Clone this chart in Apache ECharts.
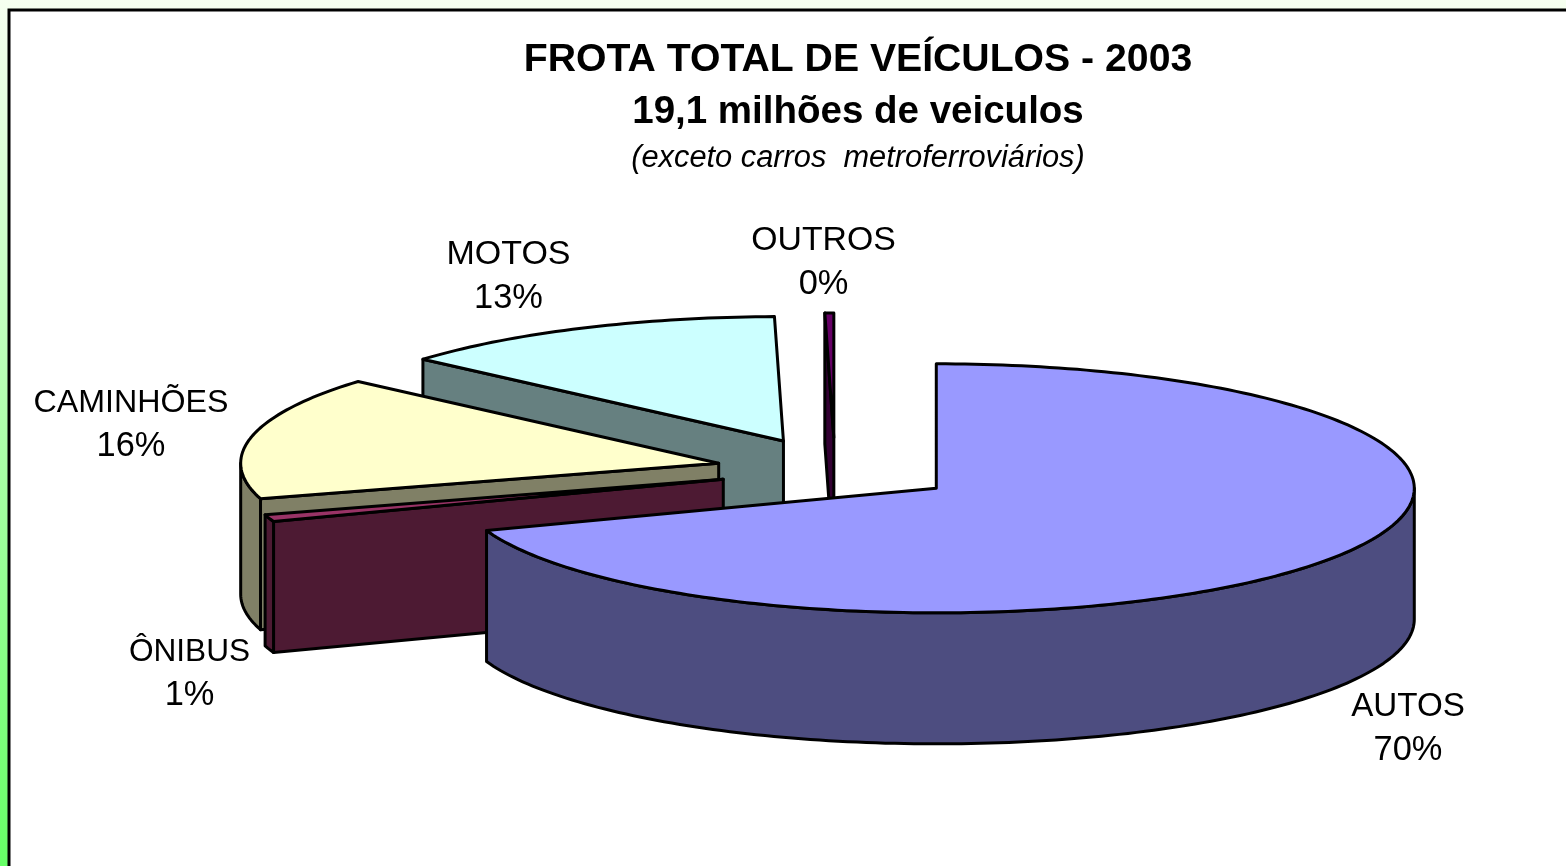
<!DOCTYPE html>
<html><head><meta charset="utf-8">
<style>html,body{margin:0;padding:0;background:#fff}#c{width:1566px;height:866px}</style>
<script src="https://cdn.jsdelivr.net/npm/echarts@6/dist/echarts.min.js"></script>
</head><body><div id="c"></div>
<script>
// Data (clockwise from 12 o'clock)
const categories = ['AUTOS', 'ÔNIBUS', 'CAMINHÕES', 'MOTOS', 'OUTROS'];
const shares = [69.5, 0.9, 16.0, 13.3, 0.3];
const titleLines = ['FROTA TOTAL DE VEÍCULOS - 2003', '19,1 milhões de veiculos', '(exceto carros  metroferroviários)'];

// Style / layout
const topColors = ['#9999FF', '#993366', '#FFFFCC', '#CCFFFF', '#660066'];
const wallColors = ['#4D4D80', '#4D1A33', '#808066', '#668080', '#330033'];
const explode = [0.259, 0.246, 0.249, 0.255, 0.26];
const labelAnchors = [[1408, 707, 751], [189.5, 652, 696], [131, 403, 447], [508.5, 254.5, 298.5], [823.5, 240.5, 285]];
const labelSizes = [33.2, 31.6, 32.2, 34, 33.8];
const pie = { cx: 835, cy: 469.8, rx: 478, ry: 124.5, depth: 131 };
const FONT = '"Liberation Sans", Arial, sans-serif';

const total = shares.reduce((a, b) => a + b, 0);
let running = 0;
const sliceRows = shares.map((v, i) => {
  const start = running / total * 360;
  running += v;
  return [start, running / total * 360, i];
});

function renderSlice(params, api) {
  const t1 = api.value(0) * Math.PI / 180, t2 = api.value(1) * Math.PI / 180, i = api.value(2);
  const mid = (t1 + t2) / 2, e = explode[i];
  const ax = pie.cx + e * pie.rx * Math.sin(mid), ay = pie.cy - e * pie.ry * Math.cos(mid);
  const pt = t => [ax + pie.rx * Math.sin(t), ay - pie.ry * Math.cos(t)];
  const down = p => [p[0], p[1] + pie.depth];
  const arc = (a, b) => {
    const out = [], n = Math.max(2, Math.ceil((b - a) / 0.02));
    for (let k = 0; k <= n; k++) out.push(pt(a + (b - a) * k / n));
    return out;
  };
  const z = categories.length - i;
  const stroke = { stroke: '#000', lineWidth: 3, lineJoin: 'round' };
  const poly = (points, fill, z2) => ({ type: 'polygon', z2, shape: { points }, style: { fill, ...stroke } });
  const kids = [];
  const wall = wallColors[i], w = z * 10;
  // cut faces turned to the viewer
  if (Math.sin(t1) < -1e-6) {
    kids.push(poly([[ax, ay], pt(t1), down(pt(t1)), [ax, ay + pie.depth]], wall, w));
  }
  if (Math.sin(t2) > 1e-6) {
    kids.push(poly([[ax, ay], pt(t2), down(pt(t2)), [ax, ay + pie.depth]], wall, w));
  }
  // rim facing the viewer (between 90 and 270 degrees)
  const a = Math.max(t1, Math.PI / 2), b = Math.min(t2, Math.PI * 1.5);
  if (b > a) {
    const rim = arc(a, b);
    kids.push(poly(rim.concat(rim.slice().reverse().map(down)), wall, w + 1));
  }
  kids.push(poly([[ax, ay]].concat(arc(t1, t2)), topColors[i], w + 2));
  const text = (str, y, size) => ({
    type: 'text', z2: 1000,
    style: {
      text: str, x: labelAnchors[i][0], y,
      textAlign: 'center', textVerticalAlign: 'middle',
      fontFamily: FONT, fontSize: size, fill: '#000'
    }
  });
  kids.push(text(categories[i], labelAnchors[i][1], labelSizes[i]));
  kids.push(text(Math.round(shares[i]) + '%', labelAnchors[i][2], 34.4));
  return { type: 'group', children: kids };
}

const chart = echarts.init(document.getElementById('c'), null, { renderer: 'canvas' });
chart.setOption({
  animation: false,
  backgroundColor: {
    type: 'linear', x: 0, y: 0, x2: 0, y2: 1,
    colorStops: [{ offset: 0, color: '#F6FFF0' }, { offset: 1, color: '#66FF66' }]
  },
  graphic: [
    { type: 'rect', z: -1, shape: { x: 9, y: 10, width: 1600, height: 900 }, style: { fill: '#fff', stroke: '#000', lineWidth: 3 } }
  ],
  title: [
    { text: titleLines[0], left: 853, top: 36, textAlign: 'center', textStyle: { fontFamily: FONT, fontSize: 39.2, fontWeight: 'bold', color: '#000' } },
    { text: titleLines[1], left: 853, top: 88, textAlign: 'center', textStyle: { fontFamily: FONT, fontSize: 38.5, fontWeight: 'bold', color: '#000' } },
    { text: titleLines[2], left: 853, top: 138, textAlign: 'center', textStyle: { fontFamily: FONT, fontSize: 30.8, fontStyle: 'italic', fontWeight: 'normal', color: '#000' } }
  ],
  series: [{
    type: 'custom', coordinateSystem: 'none', renderItem: renderSlice,
    data: sliceRows, silent: true, clip: false
  }]
});
</script></body></html>
